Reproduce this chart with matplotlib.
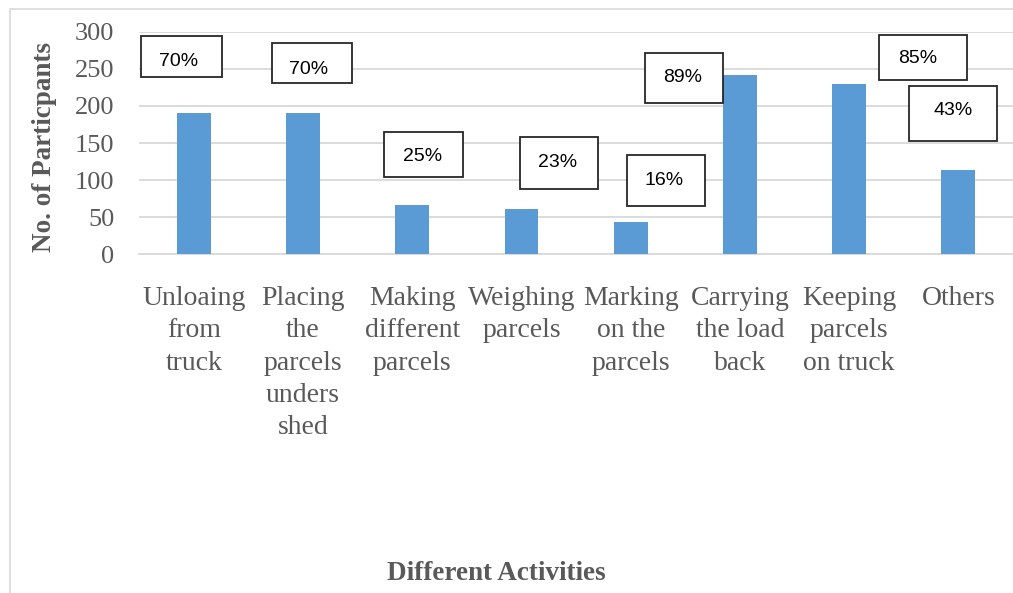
import matplotlib
matplotlib.use("Agg")
import matplotlib.pyplot as plt
from matplotlib.patches import Rectangle

categories = ["Unloaing\nfrom\ntruck", "Placing\nthe\nparcels\nunders\nshed",
              "Making\ndifferent\nparcels", "Weighing\nparcels",
              "Marking\non the\nparcels", "Carrying\nthe load\nback",
              "Keeping\nparcels\non truck", "Others"]
participants = [190, 190, 67, 61, 43, 241, 229, 114]
percent_labels = ["70%", "70%", "25%", "23%", "16%", "89%", "85%", "43%"]
yticks = [0, 50, 100, 150, 200, 250, 300]

# layout of the percentage callout boxes (data coords): (x0, x1, y0, y1, text_x, text_y)
box_layout = [
    (-0.484, 0.261, 239.3, 294.1, -0.138, 260.4),
    (0.713, 1.449, 231.2, 285.1, 1.055, 249.6),
    (1.742, 2.462, 104.1, 164.8, 2.094, 131.5),
    (2.984, 3.704, 88.4, 158.4, 3.328, 123.9),
    (3.967, 4.684, 64.7, 134.2, 4.306, 100.1),
    (4.132, 4.849, 203.8, 271.6, 4.475, 237.9),
    (6.275, 7.083, 234.8, 295.4, 6.627, 264.0),
    (6.552, 7.353, 152.6, 226.3, 6.954, 194.4),
]

W, H = 1013, 593
fig = plt.figure(figsize=(W / 100, H / 100), dpi=100)
fig.patch.set_facecolor("white")

# outer chart border
fig.add_artist(Rectangle((10 / W, -0.01), 1.05, (H - 9.3) / H + 0.01,
                         transform=fig.transFigure, fill=False,
                         edgecolor="#D9D9D9", linewidth=1.2))

ax = fig.add_axes([139.2 / W, 338.7 / H, (W - 139.2) / W, 222.6 / H])
x = list(range(len(categories)))
ax.bar(x, participants, width=0.31, color="#5B9BD5", zorder=3)

ax.set_xlim(-0.5, len(categories) - 0.5)
ax.set_ylim(0, 300)
ax.set_yticks(yticks)
ax.set_xticks(x)
ax.set_xticklabels(categories, fontfamily="Liberation Serif", fontsize=20,
                   color="#595959", linespacing=1.38, va="top")
ax.set_yticklabels([str(t) for t in yticks], fontfamily="Liberation Serif",
                   fontsize=19, color="#595959")
ax.tick_params(axis="both", length=0)
ax.tick_params(axis="y", pad=18)
ax.tick_params(axis="x", pad=23)
ax.yaxis.grid(True, color="#D9D9D9", linewidth=1.3, zorder=0)
ax.set_axisbelow(True)
for side in ["left", "right", "top"]:
    ax.spines[side].set_visible(False)
ax.spines["bottom"].set_color("#D9D9D9")
ax.spines["bottom"].set_linewidth(1.3)

for lab, (x0, x1, y0, y1, tx, ty) in zip(percent_labels, box_layout):
    ax.add_patch(Rectangle((x0, y0), x1 - x0, y1 - y0, facecolor="white",
                           edgecolor="#262626", linewidth=1.3, clip_on=False,
                           zorder=5))
    ax.text(tx, ty, lab, ha="center", va="center", fontsize=14,
            fontfamily="Liberation Sans", color="#000000", zorder=6,
            clip_on=False)

fig.text(44.5 / W, (H - 147.5) / H, "No. of Particpants", rotation=90,
         ha="center", va="center", fontfamily="Liberation Serif",
         fontweight="bold", fontsize=19.5, color="#595959")
fig.text(496 / W, (H - 580) / H, "Different Activities", ha="center",
         va="baseline", fontfamily="Liberation Serif", fontweight="bold",
         fontsize=19.5, color="#595959")

fig.savefig("out.png", dpi=100, facecolor="white")
